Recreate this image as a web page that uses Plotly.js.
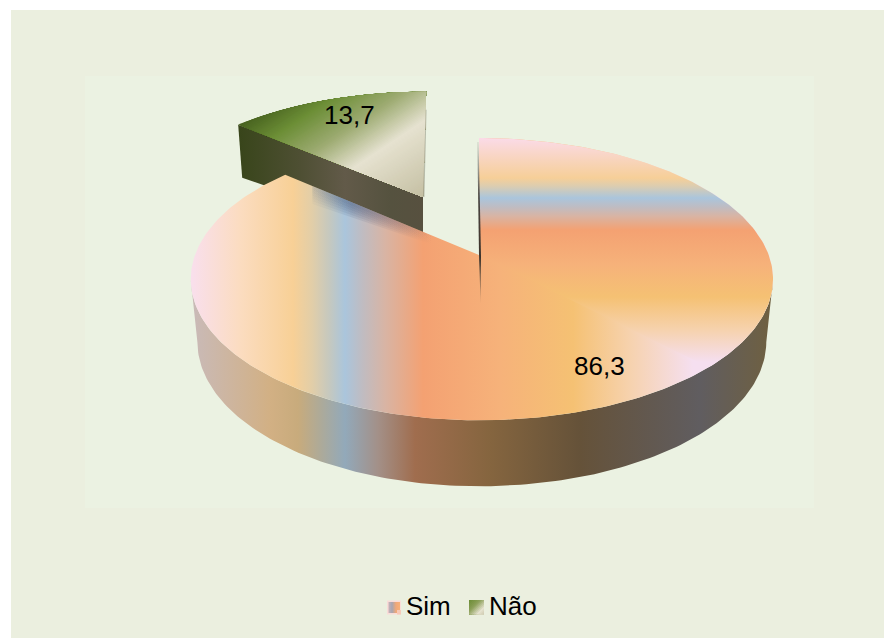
<!DOCTYPE html>
<html>
<head>
<meta charset="utf-8">
<script src="https://cdn.plot.ly/plotly-3.0.1.min.js"></script>
<style>html,body{margin:0;padding:0;background:#fff}#chart{width:884px;height:638px}</style>
</head>
<body>
<div id="chart"></div>
<script>
// Answer shares, in percent
const categories = ['Sim', 'Não'];
const shares = [86.3, 13.7];

const W = 884, H = 638;
const FONT = 'Liberation Sans, Arial, sans-serif';

// Tilted-disc projection: perspective k makes the far side of the rim shorter
const tilt = {cx: 479, cy: 255, rxR: 289.7, rxL: 284, ry: 137, k: 0.171};
const rad = d => d * Math.PI / 180;

function project(deg) {
  const u = Math.sin(rad(deg)), v = Math.cos(rad(deg));
  const w = 1 + tilt.k * v;
  return {x: tilt.cx + (u >= 0 ? tilt.rxR : tilt.rxL) * u / w, y: tilt.cy - tilt.ry * v / w, v};
}

function arc(from, to, step = 1) {
  const out = [];
  const n = Math.max(2, Math.round(Math.abs(to - from) / step));
  for (let i = 0; i <= n; i++) out.push(project(from + (to - from) * i / n));
  return out;
}

function scale(stops) {
  const a = stops[0][0], b = stops[stops.length - 1][0];
  return stops.map(s => [(s[0] - a) / (b - a), s[1]]);
}

function poly(points, fill) {
  const xs = points.map(p => p.x), ys = points.map(p => p.y);
  xs.push(xs[0]); ys.push(ys[0]);
  const t = {x: xs, y: ys, type: 'scatter', mode: 'lines', fill: 'toself', line: {width: 0},
             hoverinfo: 'skip', showlegend: false};
  if (typeof fill === 'string') t.fillcolor = fill;
  else t.fillgradient = {
    type: fill.type,
    colorscale: scale(fill.stops),
    start: fill.stops[0][0],
    stop: fill.stops[fill.stops.length - 1][0]
  };
  return t;
}

// Keep only the part of a polygon on the far side of the line s(p) = limit
function clipBeyond(points, n, limit) {
  const s = p => n.x * p.x + n.y * p.y - limit;
  const out = [];
  points.forEach((a, i) => {
    const b = points[(i + 1) % points.length];
    const sa = s(a), sb = s(b);
    if (sa >= 0) out.push(a);
    if (sa * sb < 0) {
      const t = sa / (sa - sb);
      out.push({x: a.x + (b.x - a.x) * t, y: a.y + (b.y - a.y) * t});
    }
  });
  return out;
}

function hex(c) { return [1, 3, 5].map(i => parseInt(c.substr(i, 2), 16)); }

function colorAt(stops, s) {
  for (let i = 1; i < stops.length; i++) {
    if (s <= stops[i][0]) {
      const t = (s - stops[i - 1][0]) / (stops[i][0] - stops[i - 1][0]);
      const a = hex(stops[i - 1][1]), b = hex(stops[i][1]);
      return 'rgb(' + a.map((v, j) => Math.round(v + (b[j] - v) * t)).join(',') + ')';
    }
  }
  return stops[stops.length - 1][1];
}

// Diagonal gradient painted as nested clipped layers
function diagonal(points, n, stops, count) {
  const a = stops[0][0], b = stops[stops.length - 1][0];
  const traces = [poly(points, stops[0][1])];
  for (let i = 1; i < count; i++) {
    const s = a + (b - a) * i / count;
    const part = clipBeyond(points, n, s);
    if (part.length > 2) traces.push(poly(part, colorAt(stops, s)));
  }
  return traces;
}

// Colour bands of the larger slice
const bandsAcross = [[192, '#f9dfec'], [240, '#fbdcc0'], [293, '#f8d096'], [312, '#e2cea8'], [330, '#c4c8c0'], [345, '#aac5dc'],
                     [362, '#bfbcc2'], [385, '#d8b4a4'], [423, '#f4a172'], [500, '#f6b27a'], [573, '#f5c173'], [630, '#f6d2ae'], [693, '#f5dff0']];
const bandsDown = [[138, '#fbdbe8'], [160, '#f8d4bc'], [178, '#f6cf98'], [186, '#dccdb0'], [198, '#aac5dc'], [207, '#bfbcc2'], [216, '#d8b4a4'],
                   [230, '#f4a172'], [265, '#f6b27a'], [297, '#f5c173'], [330, '#f6d2ae'], [362, '#f5dff0']];
const bandsSide = [[192, '#c9bab8'], [270, '#d2b084'], [298, '#c8ab7c'], [320, '#aeaa98'], [345, '#92a9ba'], [378, '#a39088'],
                   [415, '#a06d4e'], [490, '#85653f'], [580, '#655239'], [700, '#605d60'], [773, '#6f6040']];

// Colour bands of the pulled-out slice
const wedgeTop = [[236, '#47621f'], [265, '#6c8e36'], [300, '#9dab72'], [335, '#e6e2d0'], [399, '#c4bfa2']];
const wedgeSide = [[238, '#38451a'], [300, '#4e4f33'], [345, '#625a49'], [390, '#55523f'], [424, '#57503f']];
const diagonalNormal = {x: 0.555, y: 0.832};

const total = shares[0] + shares[1];
const simEnd = shares[0] / total * 360;
const mitre = 136;          // rim angle where the band direction of the top face changes
const apex = {x: tilt.cx, y: tilt.cy};
const traces = [];

// Pulled-out slice: side wall, then top face, shifted up and to the left of the disc
const pull = {x: 423, y: 197, sx: 0.965, sy: 0.9, lean: 0.03};
const pulled = p => {
  const dy = (p.y - tilt.cy) * pull.sy;
  return {x: pull.x + (p.x - tilt.cx) * pull.sx - dy * pull.lean, y: pull.y + dy};
};
const wedgeRim = arc(simEnd, 360).map(pulled);
const wedgeApex = {x: pull.x, y: pull.y};
const wedgeLeft = wedgeRim[0];
traces.push(poly([wedgeLeft, wedgeApex, {x: wedgeApex.x, y: wedgeApex.y + 44},
                  {x: wedgeLeft.x + 4, y: wedgeLeft.y + 53}], {type: 'horizontal', stops: wedgeSide}));
diagonal([wedgeApex, ...wedgeRim], diagonalNormal, wedgeTop, 110).forEach(t => traces.push(t));
// thin edge of the slice's cut face
const wedgeEnd = wedgeRim[wedgeRim.length - 1];
traces.push(poly([{x: wedgeEnd.x - 0.4, y: wedgeEnd.y + 18}, wedgeApex, {x: wedgeApex.x + 1.4, y: wedgeApex.y},
                  {x: wedgeEnd.x + 0.4, y: wedgeEnd.y + 18}], 'rgba(120,120,100,0.45)'));

// Side wall of the disc, along its near half
const wallTop = arc(100, 260);
const wallBottom = wallTop.map(p => ({x: 480 + (p.x - 480) * 0.977, y: p.y + 62 - 4 * p.v})).reverse();
traces.push(poly([...wallTop, ...wallBottom], {type: 'horizontal', stops: bandsSide}));

// Top face of the larger slice
traces.push(poly([apex, ...arc(0, simEnd)], {type: 'horizontal', stops: bandsAcross}));
traces.push(poly([apex, ...arc(0, mitre)], {type: 'vertical', stops: bandsDown}));

// Soft shadow the pulled-out slice leaves on the disc
const edge = project(simEnd);
const along = t => ({x: apex.x + (edge.x - apex.x) * t, y: apex.y + (edge.y - apex.y) * t});
[3, 5, 7, 9, 11, 13].forEach(depth => {
  const a = along(0.24), b = along(0.86);
  traces.push(poly([a, b, {x: b.x, y: b.y + depth * 1.4}, {x: a.x, y: a.y + depth * 0.7}], {
    type: 'horizontal',
    stops: [[300, 'rgba(95,110,130,0)'], [352, 'rgba(75,95,130,0.14)'], [400, 'rgba(120,100,110,0.08)'], [432, 'rgba(120,100,110,0)']]
  }));
});

// Narrow cut face of the larger slice, seen almost edge-on
traces.push(poly([{x: 477.3, y: 142}, apex, {x: 480.6, y: 303}, {x: 481, y: 255}, {x: 478.6, y: 142}], {
  type: 'vertical',
  stops: [[142, 'rgba(100,90,90,0.15)'], [195, 'rgba(60,55,50,0.9)'], [260, 'rgba(50,45,40,0.95)'], [303, 'rgba(120,100,80,0.4)']]
}));

// Legend swatches
const box = (x0, y0, x1, y1) => [{x: x0, y: y0}, {x: x1, y: y0}, {x: x1, y: y1}, {x: x0, y: y1}];
traces.push(poly(box(387, 600.5, 401, 614.5), '#f9dcd8'));
traces.push(poly(box(388.5, 602, 400, 613), {type: 'horizontal', stops: [[388.5, '#c9b3b8'], [392, '#a7a6b2'], [396, '#f0a878'], [400, '#f8b078']]}));
traces.push(poly(box(397, 610, 401, 614.5), '#f7c9b8'));
diagonal(box(469, 600, 484, 614.5), {x: 0.707, y: 0.707}, [[756, '#6f8f3a'], [763, '#8b9f58'], [771, '#e6e2d0'], [777, '#c9c4a8']], 14)
  .forEach(t => traces.push(t));

const decimal = v => String(v).replace('.', ',');
const label = (x, y, text, anchor) => ({
  x, y, text, xref: 'x', yref: 'y', showarrow: false, xanchor: anchor || 'center', yanchor: 'middle',
  font: {family: FONT, size: 26, color: '#000'}
});

const layout = {
  width: W, height: H,
  margin: {l: 0, r: 0, t: 0, b: 0},
  paper_bgcolor: '#ffffff',
  plot_bgcolor: 'rgba(0,0,0,0)',
  showlegend: false,
  xaxis: {range: [0, W], visible: false, fixedrange: true},
  yaxis: {range: [H, 0], visible: false, fixedrange: true},
  shapes: [
    {type: 'rect', xref: 'x', yref: 'y', x0: 11, y0: 10, x1: W, y1: H, layer: 'below', line: {width: 0}, fillcolor: '#ebefdf'},
    {type: 'rect', xref: 'x', yref: 'y', x0: 85, y0: 76, x1: 814, y1: 508, layer: 'below', line: {width: 0}, fillcolor: '#ebf2e2'}
  ],
  annotations: [
    label(599, 366, decimal(shares[0])),
    label(349, 115, decimal(shares[1])),
    label(404, 606, categories[0], 'left'),
    label(487, 606, categories[1], 'left')
  ]
};

Plotly.newPlot('chart', traces, layout, {displayModeBar: false, staticPlot: true});
</script>
</body>
</html>
